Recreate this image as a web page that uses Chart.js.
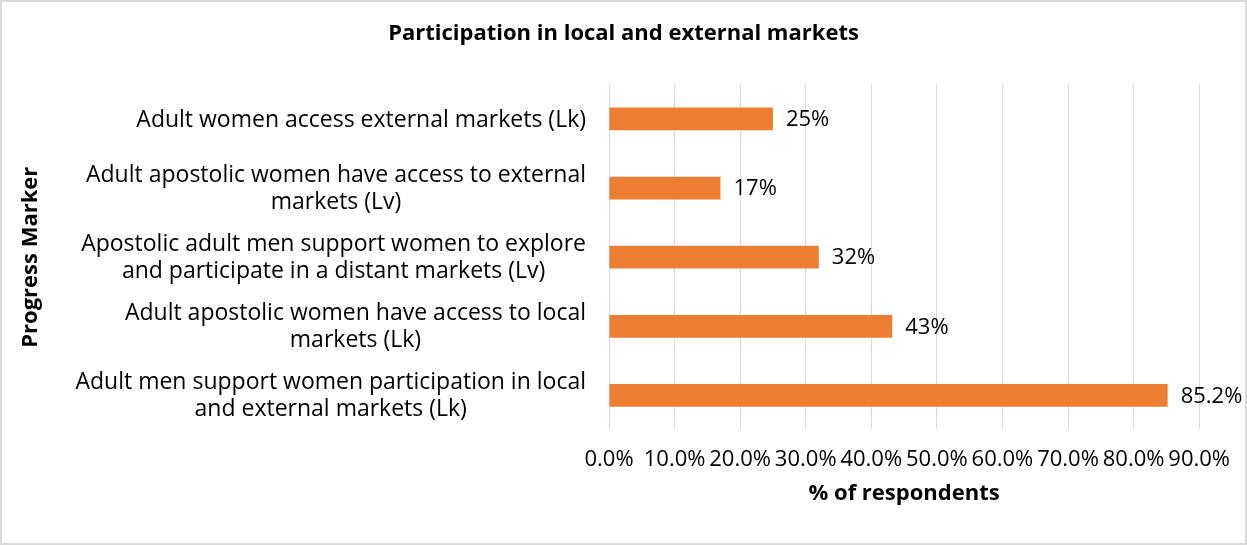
<!DOCTYPE html>
<html>
<head>
<meta charset="utf-8">
<script src="https://cdn.jsdelivr.net/npm/chart.js@4.4.1/dist/chart.umd.min.js"></script>
<style>
  html, body { margin: 0; padding: 0; background: #fff; }
  canvas { display: block; }
</style>
</head>
<body>
<canvas id="c" width="1247" height="545"></canvas>
<script>
const chartTitle = "Participation in local and external markets";
const categories = [
  ["Adult women access external markets (Lk)"],
  ["Adult apostolic women have access to external", "markets (Lv)"],
  ["Apostolic adult men support women to explore", "and participate in a distant markets (Lv)"],
  ["Adult apostolic women have access to local", "markets (Lk)"],
  ["Adult men support women participation in local", "and external markets (Lk)"]
];
const values = [25, 17, 32, 43.2, 85.2];
const valueLabels = ["25%", "17%", "32%", "43%", "85.2%"];
const xAxisTitle = "% of respondents";
const yAxisTitle = "Progress Marker";
const xMin = 0, xMax = 90, xStep = 10;

const FONT = "'Open Sans', 'Noto Sans', sans-serif";
const LABEL_SIZE = 23;
const LABEL_LINE = 27;
const LABEL_GAP = 23;

const valueLabelPlugin = {
  id: 'valueLabels',
  afterDatasetsDraw(chart) {
    const ctx = chart.ctx;
    const meta = chart.getDatasetMeta(0);
    ctx.save();
    ctx.font = "22px " + FONT;
    ctx.fillStyle = "#000";
    ctx.textAlign = "left";
    ctx.textBaseline = "middle";
    meta.data.forEach((el, i) => {
      ctx.fillText(valueLabels[i], el.x + 13, el.y + 1);
    });
    ctx.restore();
  }
};

// category labels: block right-aligned at the axis, lines centred within the block
const categoryLabelPlugin = {
  id: 'catLabels',
  afterDraw(chart) {
    const ctx = chart.ctx;
    const ys = chart.scales.y;
    const xRight = chart.chartArea.left - LABEL_GAP;
    ctx.save();
    ctx.font = LABEL_SIZE + "px " + FONT;
    ctx.fillStyle = "#000";
    ctx.textAlign = "center";
    ctx.textBaseline = "middle";
    categories.forEach((lines, i) => {
      const yc = ys.getPixelForValue(i) + 1;
      const w = Math.max(...lines.map(l => ctx.measureText(l).width));
      const xc = xRight - w / 2;
      const y0 = yc - (lines.length - 1) * LABEL_LINE / 2;
      lines.forEach((l, j) => ctx.fillText(l, xc, y0 + j * LABEL_LINE));
    });
    ctx.restore();
  }
};

const borderPlugin = {
  id: 'frame',
  afterDraw(chart) {
    const ctx = chart.ctx;
    ctx.save();
    ctx.strokeStyle = "#d9d9d9";
    ctx.lineWidth = 2;
    ctx.strokeRect(1, 1, chart.width - 2, chart.height - 2);
    ctx.restore();
  }
};

new Chart(document.getElementById('c'), {
  type: 'bar',
  data: {
    labels: categories,
    datasets: [{
      data: values,
      backgroundColor: '#ED7D31',
      borderWidth: 0,
      categoryPercentage: 1,
      barPercentage: 0.33
    }]
  },
  options: {
    indexAxis: 'y',
    responsive: false,
    animation: false,
    devicePixelRatio: 1,
    layout: { padding: 0 },
    plugins: {
      legend: { display: false },
      tooltip: { enabled: false },
      title: {
        display: true,
        text: chartTitle,
        color: '#000',
        font: { family: FONT, size: 22, weight: 'bold', lineHeight: 1.2 },
        padding: { top: 21, bottom: 37 }
      }
    },
    scales: {
      x: {
        min: xMin, max: xMax,
        ticks: {
          stepSize: xStep,
          autoSkip: false,
          maxRotation: 0,
          minRotation: 0,
          padding: 17,
          color: '#000',
          font: { family: FONT, size: 22, lineHeight: 1.2 },
          callback: v => v.toFixed(1) + '%'
        },
        grid: { color: '#d9d9d9', lineWidth: 1, drawTicks: false },
        border: { display: false },
        title: {
          display: true,
          text: xAxisTitle,
          color: '#000',
          font: { family: FONT, size: 22, weight: 'bold', lineHeight: 1.2 },
          padding: { top: 0, bottom: 38 }
        },
        afterFit(scale) { scale.height = 115; }
      },
      y: {
        ticks: {
          color: 'rgba(0,0,0,0)',
          padding: LABEL_GAP,
          font: { family: FONT, size: LABEL_SIZE, lineHeight: LABEL_LINE / LABEL_SIZE }
        },
        grid: { display: false, drawTicks: false },
        border: { display: false },
        title: {
          display: true,
          text: yAxisTitle,
          color: '#000',
          font: { family: FONT, size: 22, weight: 'bold', lineHeight: 1.2 },
          padding: { top: 18, bottom: 0 }
        },
        afterFit(scale) { scale.width = 609; }
      },
      spacerRight: {
        type: 'linear',
        position: 'right',
        display: true,
        ticks: { display: false },
        grid: { display: false, drawTicks: false },
        border: { display: false },
        afterFit(scale) { scale.width = 46; }
      }
    }
  },
  plugins: [valueLabelPlugin, categoryLabelPlugin, borderPlugin]
});
</script>
</body>
</html>
